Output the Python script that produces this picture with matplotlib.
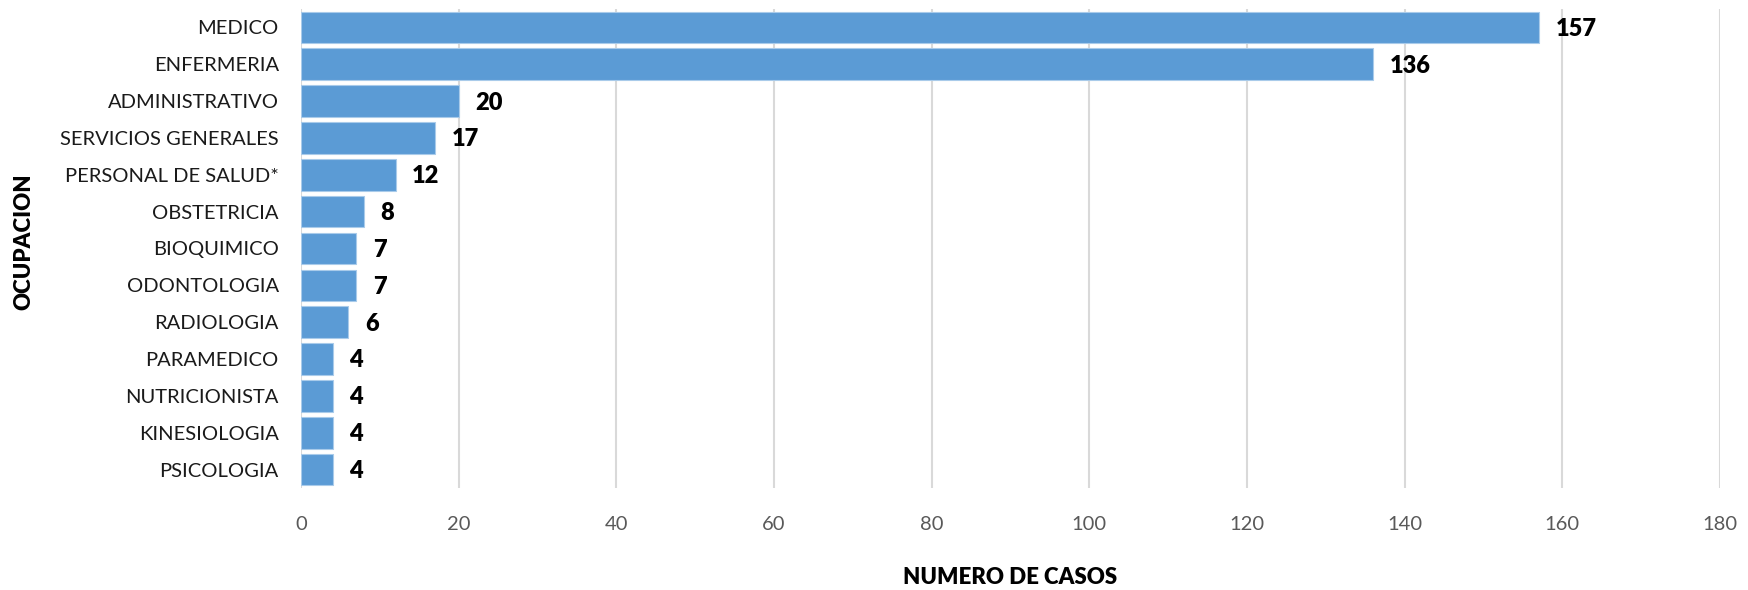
import matplotlib
matplotlib.use("Agg")
import matplotlib.pyplot as plt

# data (top to bottom)
ocupacion = ["MEDICO", "ENFERMERIA", "ADMINISTRATIVO", "SERVICIOS GENERALES",
             "PERSONAL DE SALUD*", "OBSTETRICIA", "BIOQUIMICO", "ODONTOLOGIA",
             "RADIOLOGIA", "PARAMEDICO", "NUTRICIONISTA", "KINESIOLOGIA",
             "PSICOLOGIA"]
casos = [157, 136, 20, 17, 12, 8, 7, 7, 6, 4, 4, 4, 4]
x_ticks = [0, 20, 40, 60, 80, 100, 120, 140, 160, 180]

plt.rcParams['font.family'] = ['Lato', 'DejaVu Sans']

fig = plt.figure(figsize=(17.48, 5.90), dpi=100)
# axes box in pixels: x 301..1720, y 9..488
ax = fig.add_axes([301 / 1748, 1 - 488 / 590, 1419 / 1748, 479 / 590])

pos = list(range(len(ocupacion)))
ax.barh(pos, casos, height=0.86, color='#5B9BD5', edgecolor='#A9CBEA',
        linewidth=0.8, zorder=3)
ax.set_ylim(len(ocupacion) - 0.5, -0.5)
ax.set_xlim(0, 180)
ax.set_xticks(x_ticks)
ax.set_yticks(pos)
ax.set_yticklabels(ocupacion, fontsize=14.5, color='#1a1a1a')
ax.tick_params(axis='y', length=0, pad=16)
ax.tick_params(axis='x', length=0, pad=20, labelsize=14.5, labelcolor='#595959')
ax.grid(axis='x', color='#D9D9D9', linewidth=1.5, zorder=0)
for s in ax.spines.values():
    s.set_visible(False)

for p, v in zip(pos, casos):
    ax.annotate(str(v), (v, p), xytext=(12, -1), textcoords='offset points',
                va='center', ha='left', fontsize=17, fontweight='heavy',
                color='black')

fig.text((301 + 1720) / 2 / 1748, 1 - 578 / 590, "NUMERO DE CASOS",
         ha='center', va='center', fontsize=16, fontweight='heavy')
fig.text(24 / 1748, 1 - 242 / 590, "OCUPACION", rotation=90,
         ha='center', va='center', fontsize=16, fontweight='heavy')

fig.savefig("out.png", dpi=100)
